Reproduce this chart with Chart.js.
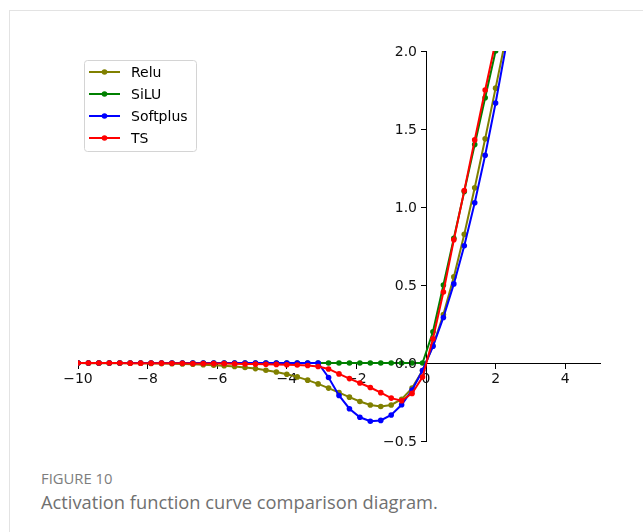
<!DOCTYPE html>
<html>
<head>
<meta charset="utf-8">
<script src="https://cdn.jsdelivr.net/npm/chart.js@4.4.0/dist/chart.umd.min.js"></script>
<style>
    body { margin: 0; background: #fff; }
    .card {
        position: absolute; left: 9px; top: 10px; width: 700px; height: 600px;
        border: 1px solid #e3e3e3;
    }
    .chart-box { position: absolute; left: 0; top: 0; width: 643px; height: 460px; }
    .fig-label {
        position: absolute; left: 41px; top: 468px;
        font-family: "Open Sans", sans-serif; font-size: 14.8px; color: #7d7d7d;
    }
    .fig-caption {
        position: absolute; left: 41px; top: 489px;
        font-family: "Open Sans", sans-serif; font-size: 18.3px; color: #707070;
    }
</style>
</head>
<body>
<div class="card"></div>
<div class="chart-box"><canvas id="myChart"></canvas></div>
<div class="fig-label">FIGURE 10</div>
<div class="fig-caption">Activation function curve comparison diagram.</div>
<script>
const ctx = document.getElementById("myChart");

// sample positions (step 0.3)
const xValues = [
    -10, -9.7, -9.4, -9.1, -8.8, -8.5, -8.2, -7.9, -7.6, -7.3,
    -7.0, -6.7, -6.4, -6.1, -5.8, -5.5, -5.2, -4.9, -4.6, -4.3,
    -4.0, -3.7, -3.4, -3.1, -2.8, -2.5, -2.2, -1.9, -1.6, -1.3,
    -1.0, -0.7, -0.4, -0.1, 0.2, 0.5, 0.8, 1.1, 1.4, 1.7,
    2.0, 2.3, 2.6,
];

const seriesNames = ["Relu", "SiLU", "Softplus", "TS"];
const seriesColors = ["#808000", "#008000", "#0000ff", "#ff0000"];

const dataRelu = [
    -0.000, -0.001, -0.001, -0.001, -0.001, -0.002, -0.002, -0.003, -0.004, -0.005,
    -0.006, -0.008, -0.011, -0.014, -0.018, -0.022, -0.029, -0.036, -0.046, -0.058,
    -0.072, -0.089, -0.110, -0.134, -0.161, -0.190, -0.219, -0.247, -0.269, -0.279,
    -0.269, -0.232, -0.161, -0.048, 0.110, 0.311, 0.552, 0.825, 1.123, 1.437,
    1.762, 2.090, 2.420,
];
const dataSilu = [
    0, 0, 0, 0, 0, 0, 0, 0, 0, 0,
    0, 0, 0, 0, 0, 0, 0, 0, 0, 0,
    0, 0, 0, 0, 0, 0, 0, 0, 0, 0,
    0, 0, 0, 0, 0.2, 0.5, 0.8, 1.1, 1.4, 1.7,
    2.0, 2.3, 2.6,
];
const dataSoftplus = [
    0, 0, 0, 0, 0, 0, 0, 0, 0, 0,
    0, 0, 0, 0, 0, 0, 0, 0, 0, 0,
    0, 0, 0, 0, -0.093, -0.208, -0.293, -0.348, -0.373, -0.368,
    -0.333, -0.268, -0.173, -0.048, 0.107, 0.292, 0.507, 0.752, 1.027, 1.332,
    1.667, 2.032, 2.427,
];
const dataTS = [
    0, 0, 0, 0, 0, -0.001, -0.001, -0.001, -0.001, -0.002,
    -0.002, -0.003, -0.003, -0.004, -0.004, -0.005, -0.006, -0.007, -0.008, -0.009,
    -0.011, -0.013, -0.016, -0.022, -0.038, -0.070, -0.100, -0.128, -0.157, -0.190,
    -0.225, -0.242, -0.195, -0.090, 0.155, 0.455, 0.790, 1.105, 1.430, 1.750,
    2.060, 2.370, 2.680,
];

const xTicks = [-10, -8, -6, -4, -2, 0, 2, 4];
const yTicks = [-0.5, 0.0, 0.5, 1.0, 1.5, 2.0];

const allSeries = [dataRelu, dataSilu, dataSoftplus, dataTS];

function minusSign(s) {
    return s.replace("-", "\u2212");
}

const tickFont = { family: "'DejaVu Sans', sans-serif", size: 14 };

// chart.js puts labels of a centred y axis right on the spine,
// so draw them here with the usual tick + pad gap
const yAxisLabels = {
    id: "yAxisLabels",
    afterDraw(chart) {
        const c = chart.ctx;
        const ys = chart.scales.y;
        const x0 = chart.scales.x.getPixelForValue(0);
        c.save();
        c.font = "14px 'DejaVu Sans', sans-serif";
        c.fillStyle = "#111";
        c.textAlign = "right";
        c.textBaseline = "middle";
        yTicks.forEach((v) => {
            c.fillText(minusSign(v.toFixed(1)), x0 - 9, ys.getPixelForValue(v) + 1);
        });
        c.restore();
    },
};

// matplotlib-like legend drawn inside the plot
const boxLegend = {
    id: "boxLegend",
    afterDraw(chart) {
        const c = chart.ctx;
        const x = 84, y = 60, w = 112, h = 91;
        c.save();
        c.beginPath();
        c.roundRect(x + 0.5, y + 0.5, w, h, 3);
        c.fillStyle = "rgba(255,255,255,0.8)";
        c.fill();
        c.strokeStyle = "#d4d4d4";
        c.lineWidth = 1;
        c.stroke();
        c.font = "14px 'DejaVu Sans', sans-serif";
        c.textBaseline = "middle";
        chart.data.datasets.forEach((ds, i) => {
            const ly = 72 + i * 22;
            c.strokeStyle = ds.borderColor;
            c.lineWidth = 2;
            c.beginPath();
            c.moveTo(89, ly);
            c.lineTo(120, ly);
            c.stroke();
            c.fillStyle = ds.borderColor;
            c.beginPath();
            c.arc(104.5, ly, 2.8, 0, Math.PI * 2);
            c.fill();
            c.fillStyle = "#000";
            c.fillText(ds.label, 131, ly + 1);
        });
        c.restore();
    },
};

const chart = new Chart(ctx, {
    type: "line",
    data: {
        datasets: allSeries.map((arr, i) => ({
            label: seriesNames[i],
            data: xValues.map((x, j) => ({ x: x, y: arr[j] })),
            borderColor: seriesColors[i],
            backgroundColor: seriesColors[i],
            borderWidth: 2,
            pointRadius: 2.8,
            pointBorderWidth: 0,
            tension: 0,
            order: 4 - i,
        })),
    },
    options: {
        animation: false,
        responsive: true,
        maintainAspectRatio: false,
        layout: {
            padding: { left: 78, right: 43, top: 51, bottom: 19 },
        },
        scales: {
            x: {
                type: "linear",
                min: -10,
                max: 5,
                position: { y: 0 },
                z: 1,
                afterBuildTicks: (scale) => {
                    scale.ticks = xTicks.map((v) => ({ value: v }));
                },
                grid: {
                    drawOnChartArea: false,
                    drawTicks: true,
                    tickLength: 5,
                    color: "#000",
                },
                border: { display: true, color: "#000", width: 1 },
                ticks: {
                    color: "#111",
                    font: tickFont,
                    padding: 3,
                    maxRotation: 0,
                    autoSkip: false,
                    callback: (v) => minusSign(String(v)),
                },
            },
            y: {
                type: "linear",
                min: -0.5,
                max: 2.0,
                position: { x: 0 },
                z: 1,
                afterBuildTicks: (scale) => {
                    scale.ticks = yTicks.map((v) => ({ value: v }));
                },
                grid: {
                    drawOnChartArea: false,
                    drawTicks: true,
                    tickLength: 5,
                    color: "#000",
                },
                border: { display: true, color: "#000", width: 1 },
                ticks: {
                    display: false,
                    autoSkip: false,
                },
            },
        },
        plugins: {
            legend: { display: false },
            tooltip: { enabled: false },
        },
    },
    plugins: [yAxisLabels, boxLegend],
});
</script>
</body>
</html>
